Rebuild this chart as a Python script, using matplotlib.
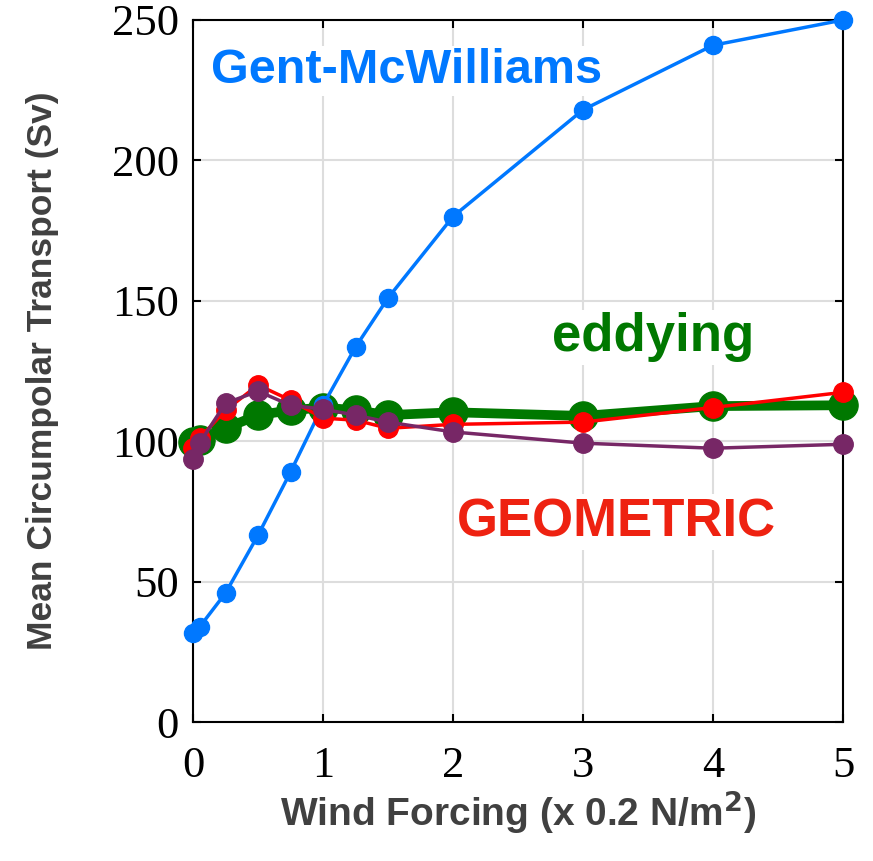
import matplotlib
matplotlib.use("Agg")
import matplotlib.pyplot as plt

# wind forcing levels (x 0.2 N/m^2)
wind = [0, 0.05, 0.25, 0.5, 0.75, 1.0, 1.25, 1.5, 2, 3, 4, 5]

# mean circumpolar transport (Sv)
gm_transport = [31.7, 33.8, 45.9, 66.5, 89.0, 112.8, 133.5, 151.0, 180.0, 218.0, 241.0, 250.0]
eddying_transport = [99.6, 100.5, 104.6, 109.3, 111.0, 112.0, 111.0, 109.3, 110.3, 109.0, 112.5, 112.8]
geometric_transport = [97.5, 101.0, 111.0, 120.0, 114.6, 108.2, 107.5, 104.6, 106.0, 106.8, 112.0, 117.4]
geometric_alt_transport = [93.5, 99.3, 113.5, 117.8, 112.8, 111.4, 109.3, 106.8, 103.3, 99.3, 97.5, 98.9]

x_ticks = [0, 1, 2, 3, 4, 5]
y_ticks = [0, 50, 100, 150, 200, 250]

blue = "#0078FF"
green = "#007800"
red = "#FF0000"
purple = "#772766"

fig = plt.figure(figsize=(8.73, 8.61), dpi=100)
ax = fig.add_axes([193 / 873, 1 - 722 / 861, 650 / 873, 702 / 861])

ax.plot(wind, eddying_transport, color=green, linewidth=7, marker="o",
        markersize=21, clip_on=False, zorder=3)
ax.plot(wind, gm_transport, color=blue, linewidth=2.5, marker="o",
        markersize=13, clip_on=False, zorder=4)
ax.plot(wind, geometric_transport, color=red, linewidth=2.5, marker="o",
        markersize=14, clip_on=False, zorder=5)
ax.plot(wind, geometric_alt_transport, color=purple, linewidth=2.5, marker="o",
        markersize=14, clip_on=False, zorder=6)

ax.set_xlim(0, 5)
ax.set_ylim(0, 250)
ax.set_xticks(x_ticks)
ax.set_yticks(y_ticks)
ax.grid(True, color="#dddddd", linewidth=1.5)
ax.set_axisbelow(True)

for spine in ax.spines.values():
    spine.set_linewidth(1.5)
    spine.set_color("black")

ax.tick_params(direction="in", length=6, width=1.5, top=True, right=True,
               labelsize=32)
ax.tick_params(axis="x", pad=17)
ax.tick_params(axis="y", pad=10)
for lab in ax.get_xticklabels() + ax.get_yticklabels():
    lab.set_fontfamily("Liberation Serif")

label_font = dict(family="Liberation Sans", fontweight="bold", color="#404040")
ax.set_xlabel("Wind Forcing (x 0.2 N/m$^\\mathbf{2}$)", fontsize=28, labelpad=2, **label_font)
ax.set_ylabel("Mean Circumpolar Transport (Sv)", fontsize=25.5, labelpad=38, **label_font)

# series names written inside the plot
box = dict(facecolor="white", edgecolor="none", pad=2)
ax.text(0.14, 227.4, "Gent-McWilliams", color=blue, fontsize=35,
        family="Liberation Sans", fontweight="bold", ha="left", va="baseline",
        bbox=box, zorder=8)
ax.text(2.76, 132.0, "eddying", color=green, fontsize=38,
        family="Liberation Sans", fontweight="bold", ha="left", va="baseline",
        bbox=box, zorder=8)
ax.text(2.03, 66.2, "GEOMETRIC", color="#EE2211", fontsize=38,
        family="Liberation Sans", fontweight="bold", ha="left", va="baseline",
        bbox=box, zorder=8)

fig.savefig("out.png", dpi=100)
